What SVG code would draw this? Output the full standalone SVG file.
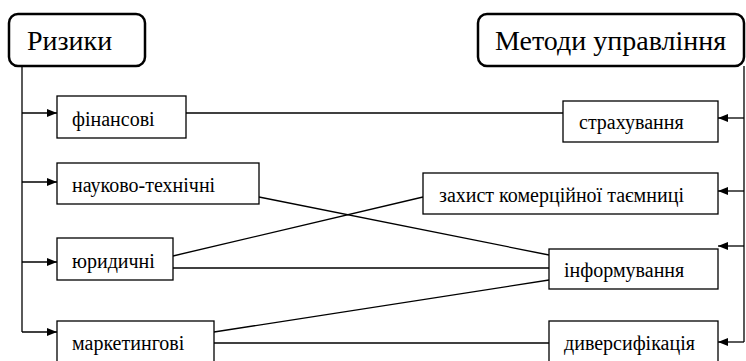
<svg xmlns="http://www.w3.org/2000/svg" width="746" height="361" viewBox="0 0 746 361" xml:lang="uk" lang="uk">
<defs>
<marker id="ah" viewBox="0 0 10 10" refX="10" refY="5" markerWidth="10" markerHeight="10" markerUnits="userSpaceOnUse" orient="auto">
<path d="M0,1 L10,5 L0,9 Z" fill="#000"/>
</marker>
</defs>
<rect width="746" height="361" fill="#fff"/>
<g id="connectors" fill="none" stroke="#000" stroke-width="1.3">
<path d="M22,66 V332"/>
<path d="M22,113 H57" marker-end="url(#ah)"/>
<path d="M22,182 H57" marker-end="url(#ah)"/>
<path d="M22,262 H57" marker-end="url(#ah)"/>
<path d="M22,332 H57" marker-end="url(#ah)"/>
<path d="M744,66 V342"/>
<path d="M744,118 H718" marker-end="url(#ah)"/>
<path d="M744,191 H718" marker-end="url(#ah)"/>
<path d="M744,246 H718" marker-end="url(#ah)"/>
<path d="M744,342 H718" marker-end="url(#ah)"/>
<path d="M186,113 H563"/>
<path d="M259,197 L549,255"/>
<path d="M173,256 L423,197"/>
<path d="M173,268 H549"/>
<path d="M214,332 L549,280"/>
<path d="M214,343 H549"/>
</g>
<g id="risks">
<rect x="9" y="14" width="136" height="52" rx="9" fill="#fff" stroke="#000" stroke-width="2.5"/>
<text x="27" y="50" font-family="Liberation Serif, Times New Roman, DejaVu Serif, serif" font-size="28">Ризики</text>
</g>
<g id="methods">
<rect x="478" y="14" width="266" height="52" rx="9" fill="#fff" stroke="#000" stroke-width="2.5"/>
<text x="495" y="50" font-family="Liberation Serif, Times New Roman, DejaVu Serif, serif" font-size="28">Методи управління</text>
</g>
<g id="financial">
<rect x="57" y="96" width="129" height="42" fill="#fff" stroke="#000" stroke-width="1.3"/>
<text x="72" y="126" font-family="Liberation Serif, Times New Roman, DejaVu Serif, serif" font-size="20">фінансові</text>
</g>
<g id="scitech">
<rect x="57" y="163" width="202" height="41" fill="#fff" stroke="#000" stroke-width="1.3"/>
<text x="72" y="192" font-family="Liberation Serif, Times New Roman, DejaVu Serif, serif" font-size="20">науково-технічні</text>
</g>
<g id="legal">
<rect x="57" y="238" width="116" height="42" fill="#fff" stroke="#000" stroke-width="1.3"/>
<text x="72" y="268" font-family="Liberation Serif, Times New Roman, DejaVu Serif, serif" font-size="20">юридичні</text>
</g>
<g id="marketing">
<rect x="57" y="321" width="157" height="43" fill="#fff" stroke="#000" stroke-width="1.3"/>
<text x="72" y="350" font-family="Liberation Serif, Times New Roman, DejaVu Serif, serif" font-size="20">маркетингові</text>
</g>
<g id="insurance">
<rect x="563" y="101" width="155" height="41" fill="#fff" stroke="#000" stroke-width="1.3"/>
<text x="579" y="129" font-family="Liberation Serif, Times New Roman, DejaVu Serif, serif" font-size="20">страхування</text>
</g>
<g id="secret">
<rect x="423" y="173" width="295" height="41" fill="#fff" stroke="#000" stroke-width="1.3"/>
<text x="439" y="202" font-family="Liberation Serif, Times New Roman, DejaVu Serif, serif" font-size="20">захист комерційної таємниці</text>
</g>
<g id="informing">
<rect x="549" y="249" width="169" height="40" fill="#fff" stroke="#000" stroke-width="1.3"/>
<text x="564" y="277" font-family="Liberation Serif, Times New Roman, DejaVu Serif, serif" font-size="20">інформування</text>
</g>
<g id="diversification">
<rect x="549" y="321" width="169" height="43" fill="#fff" stroke="#000" stroke-width="1.3"/>
<text x="564" y="350" font-family="Liberation Serif, Times New Roman, DejaVu Serif, serif" font-size="20">диверсифікація</text>
</g>
</svg>
